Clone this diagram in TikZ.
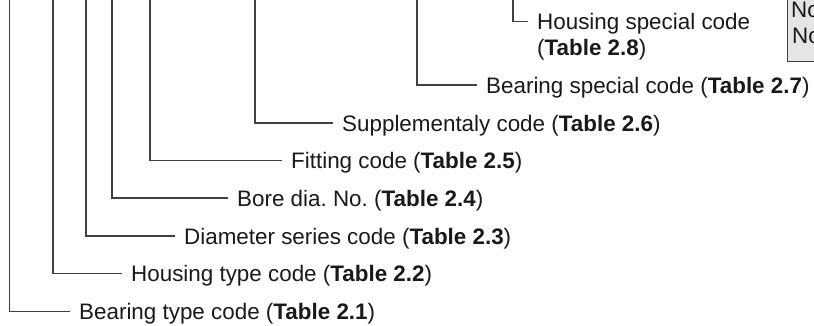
\documentclass[tikz,border=0pt]{standalone}
\usepackage{fontspec}
\setmainfont{Liberation Sans}
\begin{document}
\frenchspacing
\begin{tikzpicture}[x=1pt,y=-1pt,
  lead/.style={draw=black!75, line width=1.2pt},
  lbl/.style={anchor=west, inner xsep=9pt, inner ysep=0pt, text height=16.1pt, text depth=0pt,
    font=\fontsize{22.4}{26}\selectfont, text=black!90},
  lbl2/.style={anchor=base west, inner sep=0pt, font=\fontsize{22.4}{26}\selectfont, text=black!90},
  notebox/.style={draw=black!75, line width=1.2pt, fill=black!10}]
\clip (0,0) rectangle (814,325);
\useasboundingbox (0,0) rectangle (814,325);
% note box (cut by the edge)
\node[notebox, anchor=south west, minimum width=80pt, minimum height=80pt] (box) at (787,62) {};
\node[lbl2] (n1) at (791,17) {No};
\node[lbl2] (n2) at (792,43) {No};
% top ends of leads
\coordinate (t1) at (9.5,-2);
\coordinate (t2) at (53,-2);
\coordinate (t3) at (86,-2);
\coordinate (t4) at (112,-2);
\coordinate (t5) at (150,-2);
\coordinate (t6) at (255,-2);
\coordinate (t7) at (417,-2);
\coordinate (t8) at (513,-2);
% labels
\node[lbl] (l1) at (70,311.7) {Bearing type code (\textbf{Table 2.1})};
\node[lbl] (l2) at (122,273.8) {Housing type code (\textbf{Table 2.2})};
\node[lbl] (l3) at (175,236) {Diameter series code (\textbf{Table 2.3})};
\node[lbl] (l4) at (228,198) {Bore dia. No. (\textbf{Table 2.4})};
\node[lbl] (l5) at (282,160.7) {Fitting code (\textbf{Table 2.5})};
\node[lbl] (l6) at (333,123) {Supplementaly code (\textbf{Table 2.6})};
\node[lbl] (l7) at (477,85) {Bearing special code (\textbf{Table 2.7})};
\node[lbl] (l8) at (528,21.7) {Housing special code};
\node[lbl2] (l8b) at ([xshift=9pt,yshift=-26pt]l8.south west) {(\textbf{Table 2.8})};
% leads
\draw[lead] (t1) |- (l1.west);
\draw[lead] (t2) |- (l2.west);
\draw[lead] (t3) |- (l3.west);
\draw[lead] (t4) |- (l4.west);
\draw[lead] (t5) |- (l5.west);
\draw[lead] (t6) |- (l6.west);
\draw[lead] (t7) |- (l7.west);
\draw[lead] (t8) |- (l8.west);
\end{tikzpicture}
\end{document}
